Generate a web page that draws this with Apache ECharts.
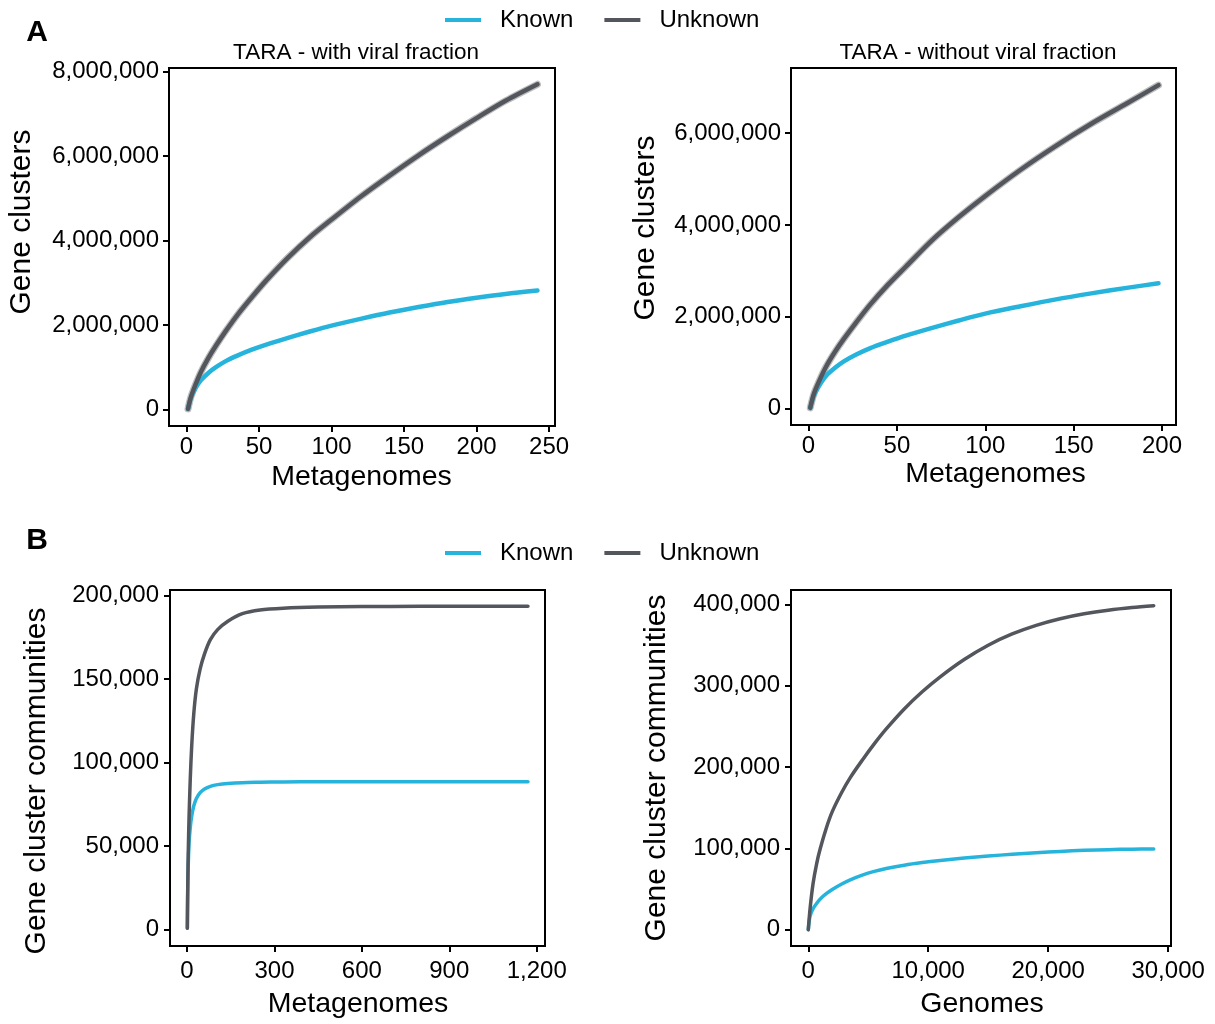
<!DOCTYPE html>
<html><head><meta charset="utf-8">
<script src="https://cdn.jsdelivr.net/npm/echarts@6/dist/echarts.min.js"></script>
<style>html,body{margin:0;padding:0;background:#fff}#c{width:1215px;height:1024px}</style>
</head><body><div id="c"></div>
<script>
// ---------- data ----------
const seriesNames = ['Known', 'Unknown'];

// Panel A, left: TARA - with viral fraction
const a1X = [1, 3, 6, 10, 15, 20, 27, 35, 45, 55, 70, 85, 100, 120, 140, 160, 180, 200, 220, 242];
const a1Known = [20000, 280000, 500000, 700000, 870000, 1000000, 1150000, 1280000, 1420000, 1540000, 1700000, 1850000, 1990000, 2150000, 2300000, 2430000, 2550000, 2650000, 2740000, 2820000];
const a1Unknown = [20000, 300000, 580000, 900000, 1220000, 1500000, 1860000, 2240000, 2660000, 3060000, 3600000, 4080000, 4500000, 5040000, 5540000, 6020000, 6470000, 6900000, 7310000, 7700000];

// Panel A, right: TARA - without viral fraction
const a2X = [1, 3, 6, 10, 15, 20, 27, 35, 45, 55, 70, 85, 100, 120, 140, 160, 180, 198];
const a2Known = [20000, 280000, 500000, 720000, 890000, 1030000, 1180000, 1320000, 1460000, 1590000, 1760000, 1920000, 2070000, 2230000, 2380000, 2510000, 2630000, 2730000];
const a2Unknown = [20000, 320000, 600000, 920000, 1240000, 1520000, 1880000, 2270000, 2700000, 3090000, 3670000, 4170000, 4630000, 5200000, 5720000, 6200000, 6640000, 7040000];

// Panel B, left: metagenomes
const b1X = [1, 2, 4, 7, 11, 16, 23, 32, 45, 60, 80, 105, 140, 190, 250, 330, 450, 600, 800, 1000, 1170];
const b1Known = [1000, 18000, 38000, 52000, 61000, 68000, 74000, 78500, 82000, 84200, 85800, 86800, 87500, 88000, 88200, 88400, 88500, 88600, 88600, 88600, 88600];
const b1Unknown = [1000, 20000, 45000, 68000, 90000, 110000, 129000, 144000, 156000, 165000, 173500, 179500, 184500, 189000, 191200, 192300, 193000, 193300, 193400, 193500, 193500];

// Panel B, right: genomes
const b2X = [1, 150, 400, 700, 1000, 1500, 2000, 2750, 3500, 4500, 5500, 6500, 8000, 9500, 11000, 13000, 15000, 17000, 19000, 21000, 23000, 25000, 27000, 28800];
const b2Known = [100, 17000, 26000, 32500, 38000, 44400, 49600, 56100, 61500, 67300, 71850, 75350, 79500, 82700, 85300, 88250, 90750, 92900, 94800, 96400, 97750, 98600, 99200, 99500];
const b2Unknown = [100, 26000, 57000, 81500, 100000, 125000, 145300, 168000, 187200, 208600, 228600, 247000, 271600, 292700, 311100, 332400, 350000, 363800, 374400, 382500, 388600, 393100, 396400, 398600];

// tick labels
const a1XTicks = [0, 50, 100, 150, 200, 250];
const a1YTicks = [0, 2000000, 4000000, 6000000, 8000000];
const a2XTicks = [0, 50, 100, 150, 200];
const a2YTicks = [0, 2000000, 4000000, 6000000];
const b1XTicks = [0, 300, 600, 900, 1200];
const b1YTicks = [0, 50000, 100000, 150000, 200000];
const b2XTicks = [0, 10000, 20000, 30000];
const b2YTicks = [0, 100000, 200000, 300000, 400000];

// ---------- style ----------
const FONT = '"Liberation Sans", Arial, Helvetica, sans-serif';
const KNOWN = '#27b4dc';
const UNKNOWN = '#53565c';
const BAND = '#bdbdbd';
const fmt = v => String(v).replace(/\B(?=(\d{3})+(?!\d))/g, ',');
const pairs = (xs, ys) => xs.map((x, i) => [x, ys[i]]);

function ax(g, min, max, ticks, margin) {
  return {
    type: 'value', gridIndex: g, min, max, splitLine: { show: false },
    axisLine: { show: true, onZero: false, lineStyle: { color: '#000', width: 2 } },
    axisTick: { show: true, length: 6, customValues: ticks, lineStyle: { color: '#000', width: 2 } },
    axisLabel: { customValues: ticks, formatter: fmt, color: '#000', fontSize: 24, fontFamily: FONT, margin }
  };
}
function line(name, idx, data, color, width, z) {
  return {
    type: 'line', name, xAxisIndex: idx, yAxisIndex: idx, data,
    showSymbol: false, symbol: 'none', smooth: 0.3,
    lineStyle: { color, width, cap: 'round', join: 'round' }, itemStyle: { color }, z, silent: true
  };
}
function txt(text, x, y, size, opts) {
  opts = opts || {};
  return {
    type: 'text', x, y, rotation: opts.rot || 0, silent: true,
    style: {
      text, x: 0, y: 0, fill: '#000', fontSize: size, fontFamily: FONT,
      fontWeight: opts.bold ? 'bold' : 'normal',
      align: 'center', verticalAlign: 'middle', textAlign: 'center', textVerticalAlign: 'middle'
    }
  };
}
function legend(top) {
  return {
    data: seriesNames, left: 445, top, padding: 0, icon: 'rect', itemWidth: 36, itemHeight: 4, itemGap: 31,
    selectedMode: false,
    textStyle: { fontSize: 24, fontFamily: FONT, color: '#000', padding: [0, 0, 0, 14], lineHeight: 24 }
  };
}

const gridBase = { show: true, borderColor: '#000', borderWidth: 2, backgroundColor: '#fff', containLabel: false };

const option = {
  animation: false,
  backgroundColor: '#fff',
  legend: [legend(8), legend(541)],
  grid: [
    Object.assign({ left: 169, top: 68, width: 386, height: 358 }, gridBase),
    Object.assign({ left: 791, top: 68, width: 385, height: 357 }, gridBase),
    Object.assign({ left: 170, top: 590, width: 375, height: 356 }, gridBase),
    Object.assign({ left: 791, top: 590, width: 380, height: 356 }, gridBase)
  ],
  xAxis: [
    ax(0, -12.1, 254.1, a1XTicks, 9),
    ax(1, -9.9, 207.9, a2XTicks, 9),
    ax(2, -58.5, 1228.5, b1XTicks, 13),
    ax(3, -1440, 30240, b2XTicks, 13)
  ],
  yAxis: [
    ax(0, -385000, 8085000, a1YTicks, 10),
    ax(1, -353000, 7413000, a2YTicks, 10),
    ax(2, -9675, 203175, b1YTicks, 11),
    ax(3, -19900, 417900, b2YTicks, 11)
  ],
  series: [
    line('band', 0, pairs(a1X, a1Unknown), BAND, 7, 1),
    line('Known', 0, pairs(a1X, a1Known), KNOWN, 4.5, 2),
    line('Unknown', 0, pairs(a1X, a1Unknown), UNKNOWN, 4.5, 3),
    line('band', 1, pairs(a2X, a2Unknown), BAND, 7, 1),
    line('Known', 1, pairs(a2X, a2Known), KNOWN, 4.5, 2),
    line('Unknown', 1, pairs(a2X, a2Unknown), UNKNOWN, 4.5, 3),
    line('Known', 2, pairs(b1X, b1Known), KNOWN, 3.5, 2),
    line('Unknown', 2, pairs(b1X, b1Unknown), UNKNOWN, 3.5, 3),
    line('Known', 3, pairs(b2X, b2Known), KNOWN, 3.5, 2),
    line('Unknown', 3, pairs(b2X, b2Unknown), UNKNOWN, 3.5, 3)
  ],
  graphic: [
    txt('A', 37, 33, 30, { bold: true }),
    txt('B', 37, 541, 30, { bold: true }),
    txt('TARA - with viral fraction', 356, 52.5, 22.5),
    txt('TARA - without viral fraction', 978, 53, 22.5),
    txt('Gene clusters', 22, 222, 30, { rot: Math.PI / 2 }),
    txt('Gene clusters', 646, 228, 30, { rot: Math.PI / 2 }),
    txt('Gene cluster communities', 37, 781, 30, { rot: Math.PI / 2 }),
    txt('Gene cluster communities', 657, 768, 30, { rot: Math.PI / 2 }),
    txt('Metagenomes', 361.5, 477, 28.5),
    txt('Metagenomes', 995.5, 474, 28.5),
    txt('Metagenomes', 358, 1004, 28.5),
    txt('Genomes', 982, 1004, 28.5)
  ]
};

const chart = echarts.init(document.getElementById('c'), null, { renderer: 'canvas' });
chart.setOption(option);
</script>
</body></html>
